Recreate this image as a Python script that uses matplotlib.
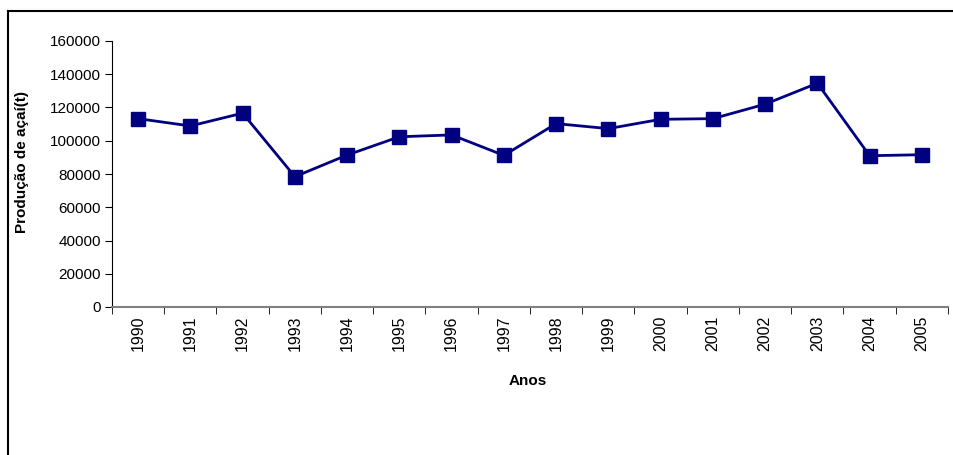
import matplotlib
matplotlib.use("Agg")
import matplotlib.pyplot as plt
from matplotlib.lines import Line2D
import numpy as np

plt.rcParams['font.family'] = ['Liberation Sans', 'DejaVu Sans']

# data
anos = ['1990', '1991', '1992', '1993', '1994', '1995', '1996', '1997',
        '1998', '1999', '2000', '2001', '2002', '2003', '2004', '2005']
producao = [113300, 108900, 116600, 78400, 91400, 102400, 103500, 91200,
            110300, 107300, 112900, 113300, 122000, 134600, 91000, 91600]
y_ticks = [0, 20000, 40000, 60000, 80000, 100000, 120000, 140000, 160000]

W, H = 954, 455
fig = plt.figure(figsize=(W / 100, H / 100), dpi=100)

# outer chart frame (Excel style): only the top and left edges are in view
top = 1 - 11 / H
left = 8 / W
fig.lines.append(Line2D([left, 1.0], [top, top], transform=fig.transFigure,
                        color='black', linewidth=1.5))
fig.lines.append(Line2D([left, left], [0.0, top], transform=fig.transFigure,
                        color='black', linewidth=1.5))

ax = fig.add_axes([112 / W, 148 / H, (948 - 112) / W, (307 - 41) / H])

x = np.arange(len(anos))
ax.plot(x, producao, color='#000080', linewidth=2, marker='s',
        markersize=10, markerfacecolor='#000080', markeredgecolor='#000080')

ax.set_xlim(-0.5, len(anos) - 0.5)
ax.set_ylim(0, 160000)
ax.set_yticks(y_ticks)
ax.set_yticklabels([str(v) for v in y_ticks], fontsize=11)

ax.set_xticks(x)
ax.set_xticklabels(anos, rotation=90, fontsize=11.5)
ax.set_xticks(np.arange(-0.5, len(anos), 1), minor=True)
ax.tick_params(axis='x', which='major', length=0, pad=6)
ax.tick_params(axis='x', which='minor', length=5, color='black')
ax.tick_params(axis='y', length=5, pad=3)

for s in ['top', 'right']:
    ax.spines[s].set_visible(False)
ax.spines['bottom'].set_color('#808080')
ax.spines['bottom'].set_linewidth(1.5)
ax.spines['left'].set_color('black')

fig.text(22 / W, 1 - 162 / H, 'Produção de açaí(t)', rotation=90,
         ha='center', va='center', fontsize=11, fontweight='bold')
fig.text(528 / W, 1 - 381 / H, 'Anos', ha='center', va='center',
         fontsize=11, fontweight='bold')

fig.savefig('out.png', dpi=100)
